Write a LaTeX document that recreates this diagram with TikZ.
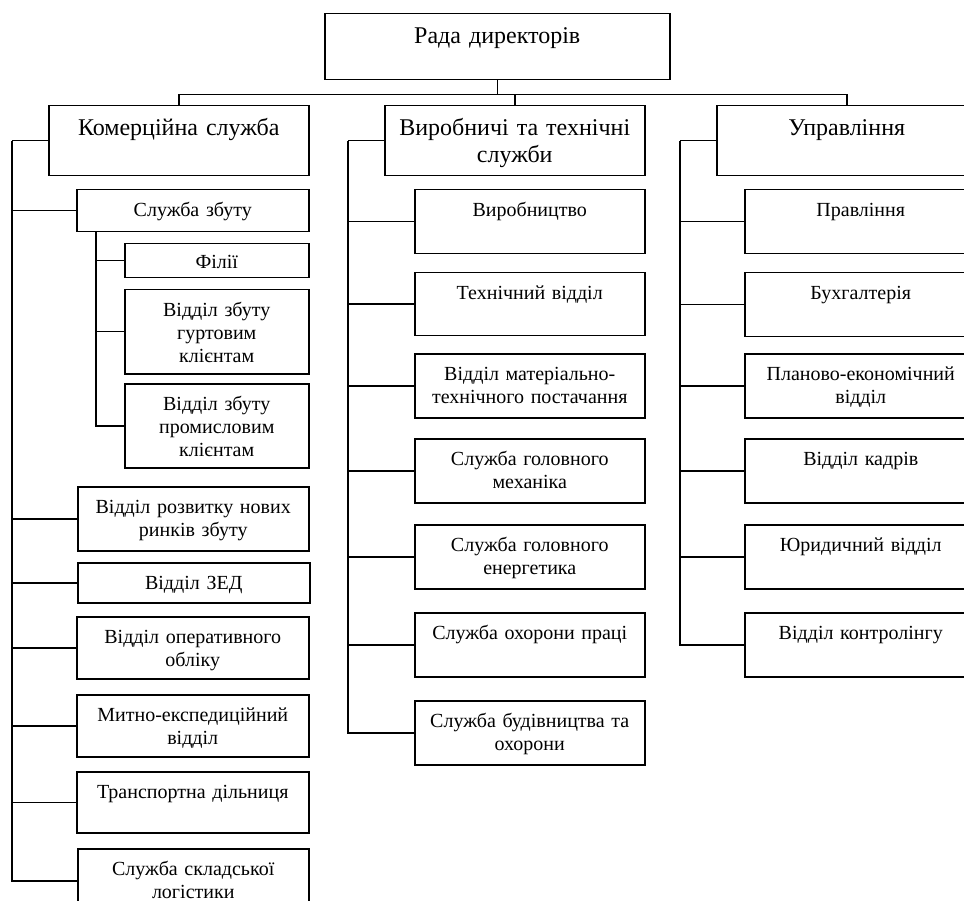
\documentclass[tikz,border=0pt]{standalone}
\usepackage{fontspec}
\setmainfont{Liberation Serif}

\tikzset{
	frame/.style={draw, line width=1.5pt, anchor=north west, inner xsep=2pt, inner ysep=0pt, align=center},
	toplevel/.style={frame, text width=250pt, text height=30pt, font=\fontsize{24}{27}\selectfont},
	dept/.style={frame, text width=220pt, text height=27pt, font=\fontsize{20}{23}\selectfont},
	subdept/.style={dept, text width=176pt},
	link/.style={line width=1.5pt}
}

\begin{document}
\begin{tikzpicture}[x=1pt, y=-1pt]
	\useasboundingbox (0,0) rectangle (964,901);

	% board
	\node[toplevel, minimum width=345pt, text depth=36pt] (rada) at (324,13) {Рада директорів};
	\node[toplevel, minimum width=260pt, text depth=40pt] (kom) at (48,105) {Комерційна служба};
	\node[toplevel, minimum width=260pt, text depth=40pt] (vyr) at (384,105) {Виробничі та технічні\\служби};
	\node[toplevel, minimum width=260pt, text depth=40pt] (upr) at (716,105) {Управління};

	\draw[link] (rada.south) -- ++(0,14) coordinate (bus);
	\foreach \n in {kom,vyr,upr}
		\draw[link] (\n.north) |- (bus);

	% commercial
	\node[dept, minimum width=232pt, text depth=15pt] (zbut) at (76,189) {Служба збуту};
	\node[subdept, minimum width=184pt, text height=25pt, text depth=9pt] (filii) at (124,243) {Філії};
	\node[subdept, minimum width=184pt, text depth=57pt] (gurt) at (124,289) {Відділ збуту\\гуртовим\\клієнтам};
	\node[subdept, minimum width=184pt, text depth=57pt] (prom) at (124,383) {Відділ збуту\\промисловим\\клієнтам};
	\node[dept, minimum width=231pt, text depth=37pt] (rozv) at (77,486) {Відділ розвитку нових\\ринків збуту};
	\node[dept, minimum width=232pt, text depth=13pt] (zed) at (77,562) {Відділ ЗЕД};
	\node[dept, minimum width=232pt, text depth=35pt] (oper) at (76,616) {Відділ оперативного\\обліку};
	\node[dept, minimum width=232pt, text depth=35pt] (mytno) at (76,694) {Митно-експедиційний\\відділ};
	\node[dept, minimum width=232pt, text depth=34pt] (transp) at (76,771) {Транспортна дільниця};
	\node[dept, minimum width=231pt, text depth=37pt] (logist) at (77,848) {Служба складської\\логістики};

	\draw[link] (kom.west) -- ++(-36,0) coordinate (kspine);
	\foreach \n in {zbut,rozv,zed,oper,mytno,transp,logist}
		\draw[link] (\n.west) -| (kspine);
	\coordinate (zspine) at ([xshift=20pt]zbut.south west);
	\foreach \n in {filii,gurt,prom}
		\draw[link] (\n.west) -| (zspine);

	% production
	\node[dept, minimum width=230pt, text depth=37pt] (vyrob) at (414,189) {Виробництво};
	\node[dept, minimum width=230pt, text depth=36pt] (tekh) at (414,272) {Технічний відділ};
	\node[dept, minimum width=230pt, text depth=37pt] (mat) at (414,353) {Відділ матеріально-\\технічного постачання};
	\node[dept, minimum width=230pt, text depth=37pt] (mekh) at (414,438) {Служба головного\\механіка};
	\node[dept, minimum width=230pt, text depth=37pt] (energ) at (414,524) {Служба головного\\енергетика};
	\node[dept, minimum width=230pt, text depth=37pt] (okh) at (414,612) {Служба охорони праці};
	\node[dept, minimum width=230pt, text depth=37pt] (bud) at (414,700) {Служба будівництва та\\охорони};

	\draw[link] (vyr.west) -- ++(-36,0) coordinate (vspine);
	\foreach \n in {vyrob,tekh,mat,mekh,energ,okh,bud}
		\draw[link] (\n.west) -| (vspine);

	% management
	\node[dept, minimum width=232pt, text depth=37pt] (prav) at (744,189) {Правління};
	\node[dept, minimum width=232pt, text depth=37pt] (bukh) at (744,272) {Бухгалтерія};
	\node[dept, minimum width=232pt, text depth=37pt] (plan) at (744,353) {Планово-економічний\\відділ};
	\node[dept, minimum width=232pt, text depth=37pt] (kadr) at (744,438) {Відділ кадрів};
	\node[dept, minimum width=232pt, text depth=37pt] (yur) at (744,524) {Юридичний відділ};
	\node[dept, minimum width=232pt, text depth=37pt] (kontr) at (744,612) {Відділ контролінгу};

	\draw[link] (upr.west) -- ++(-36,0) coordinate (uspine);
	\foreach \n in {prav,bukh,plan,kadr,yur,kontr}
		\draw[link] (\n.west) -| (uspine);
\end{tikzpicture}
\end{document}
